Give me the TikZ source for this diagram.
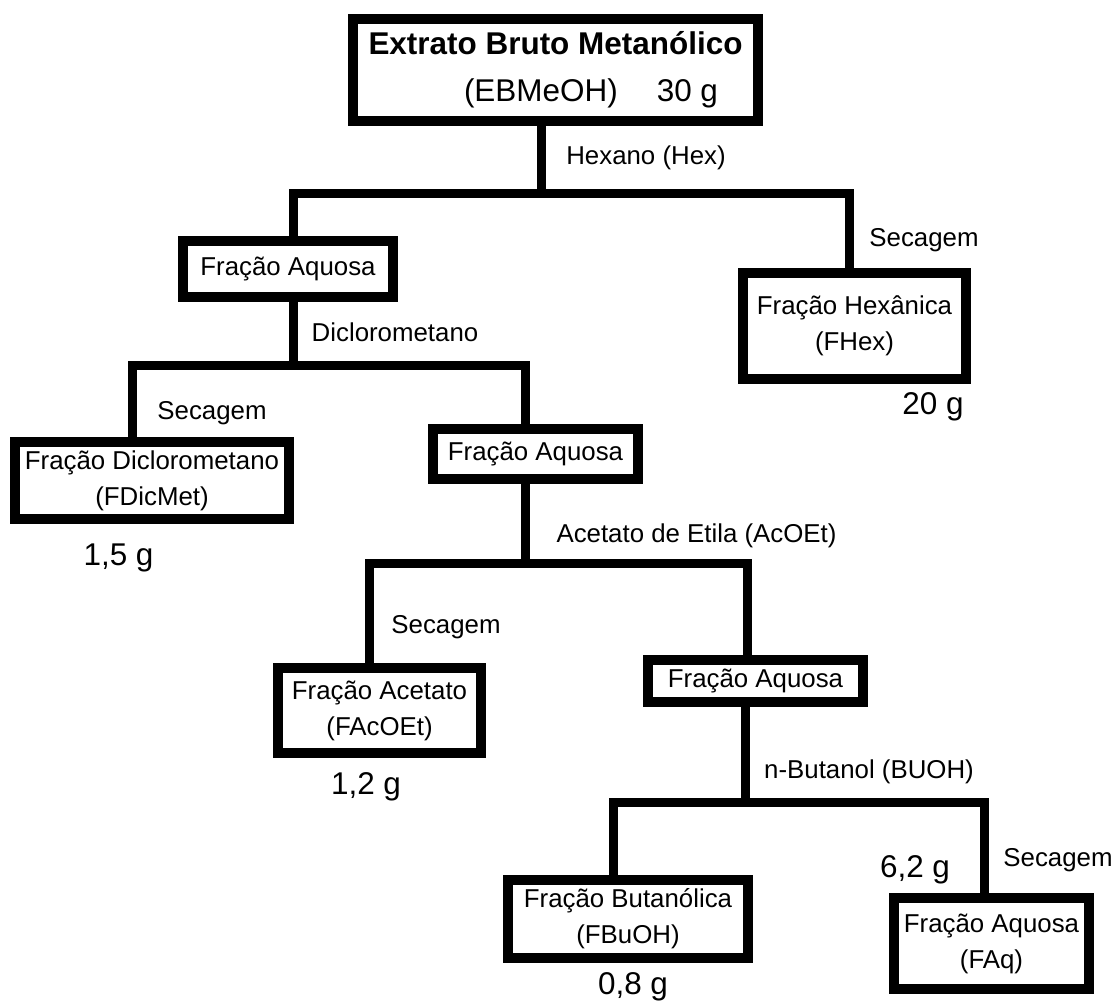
\documentclass[tikz,border=0pt]{standalone}
\usepackage{fontspec}
\setmainfont{Liberation Sans}
\begin{document}
\begin{tikzpicture}[
  caixa/.style={draw, line width=0.2cm, inner sep=0pt, align=center,
    font=\fontsize{14.7}{20.5}\selectfont},
  rotulo/.style={inner sep=0pt, font=\fontsize{14.7}{18}\selectfont},
  massa/.style={inner sep=0pt, font=\fontsize{17.9}{22}\selectfont},
  ligacao/.style={line width=0.18cm}
]
  \useasboundingbox (0, 0) rectangle (22.32, -20.02);
  \node[caixa, minimum width=8.1cm, minimum height=2.04cm,
    font=\fontsize{17.9}{26.7}\selectfont] (ebm) at (11.11, -1.4)
    {{\bfseries Extrato Bruto Metanólico}\\\hspace*{1.42cm}(EBMeOH)\hspace{0.78cm}30 g};
  \node[caixa, minimum width=4.2cm, minimum height=1.12cm] (fa1) at (5.76, -5.38) {Fração Aquosa};
  \node[caixa, minimum width=4.46cm, minimum height=2.12cm] (fhex) at (17.09, -6.52) {Fração Hexânica\\(FHex)};
  \node[caixa, minimum width=5.48cm, minimum height=1.54cm] (fdic) at (3.04, -9.61) {Fração Diclorometano\\(FDicMet)};
  \node[caixa, minimum width=4.1cm, minimum height=1cm] (fa2) at (10.71, -9.08) {Fração Aquosa};
  \node[caixa, minimum width=4.06cm, minimum height=1.7cm] (facoet) at (7.59, -14.21) {Fração Acetato\\(FAcOEt)};
  \node[caixa, minimum width=4.3cm, minimum height=0.84cm] (fa3) at (15.11, -13.62) {Fração Aquosa};
  \node[caixa, minimum width=4.8cm, minimum height=1.56cm] (fbuoh) at (12.56, -18.38) {Fração Butanólica\\(FBuOH)};
  \node[caixa, minimum width=3.9cm, minimum height=1.82cm] (faq) at (19.83, -18.87) {Fração Aquosa\\(FAq)};

  \node[rotulo] (hexano) at (12.92, -3.16) {Hexano (Hex)};
  \node[rotulo] (sechex) at (18.48, -4.8) {Secagem};
  \node[rotulo] (dcm) at (7.9, -6.64) {Diclorometano};
  \node[rotulo] (secdic) at (4.24, -8.26) {Secagem};
  \node[rotulo] (acoet) at (13.93, -10.72) {Acetato de Etila (AcOEt)};
  \node[rotulo] (secac) at (8.92, -12.54) {Secagem};
  \node[rotulo] (buoh) at (17.38, -15.44) {n-Butanol (BUOH)};
  \node[rotulo] (secaq) at (21.16, -17.2) {Secagem};

  \node[massa] (mhex) at (18.66, -8.14) {20 g};
  \node[massa] (mdic) at (2.37, -11.16) {1,5 g};
  \node[massa] (mac) at (7.32, -15.74) {1,2 g};
  \node[massa] (mbu) at (12.66, -19.74) {0,8 g};
  \node[massa] (maq) at (18.3, -17.4) {6,2 g};

  \coordinate (hexm) at (10.83, -3.86);
  \coordinate (hexl) at (5.86, -3.86);
  \coordinate (hexr) at (16.99, -3.86);
  \coordinate (dicm) at (5.86, -7.3);
  \coordinate (dicl) at (2.64, -7.3);
  \coordinate (dicr) at (10.51, -7.3);
  \coordinate (acm) at (10.51, -11.27);
  \coordinate (acl) at (7.39, -11.27);
  \coordinate (acr) at (14.95, -11.27);
  \coordinate (bum) at (14.91, -16.04);
  \coordinate (bul) at (12.27, -16.04);
  \coordinate (bur) at (19.68, -16.04);

  \draw[ligacao] (ebm.south -| hexm) -- (hexm);
  \draw[ligacao] (fa1.north -| hexl) -- (hexl) -- (hexr) -- (fhex.north -| hexr);
  \draw[ligacao] (fa1.south -| dicm) -- (dicm);
  \draw[ligacao] (fdic.north -| dicl) -- (dicl) -- (dicr) -- (fa2.north -| dicr);
  \draw[ligacao] (fa2.south -| acm) -- (acm);
  \draw[ligacao] (facoet.north -| acl) -- (acl) -- (acr) -- (fa3.north -| acr);
  \draw[ligacao] (fa3.south -| bum) -- (bum);
  \draw[ligacao] (fbuoh.north -| bul) -- (bul) -- (bur) -- (faq.north -| bur);
\end{tikzpicture}
\end{document}
